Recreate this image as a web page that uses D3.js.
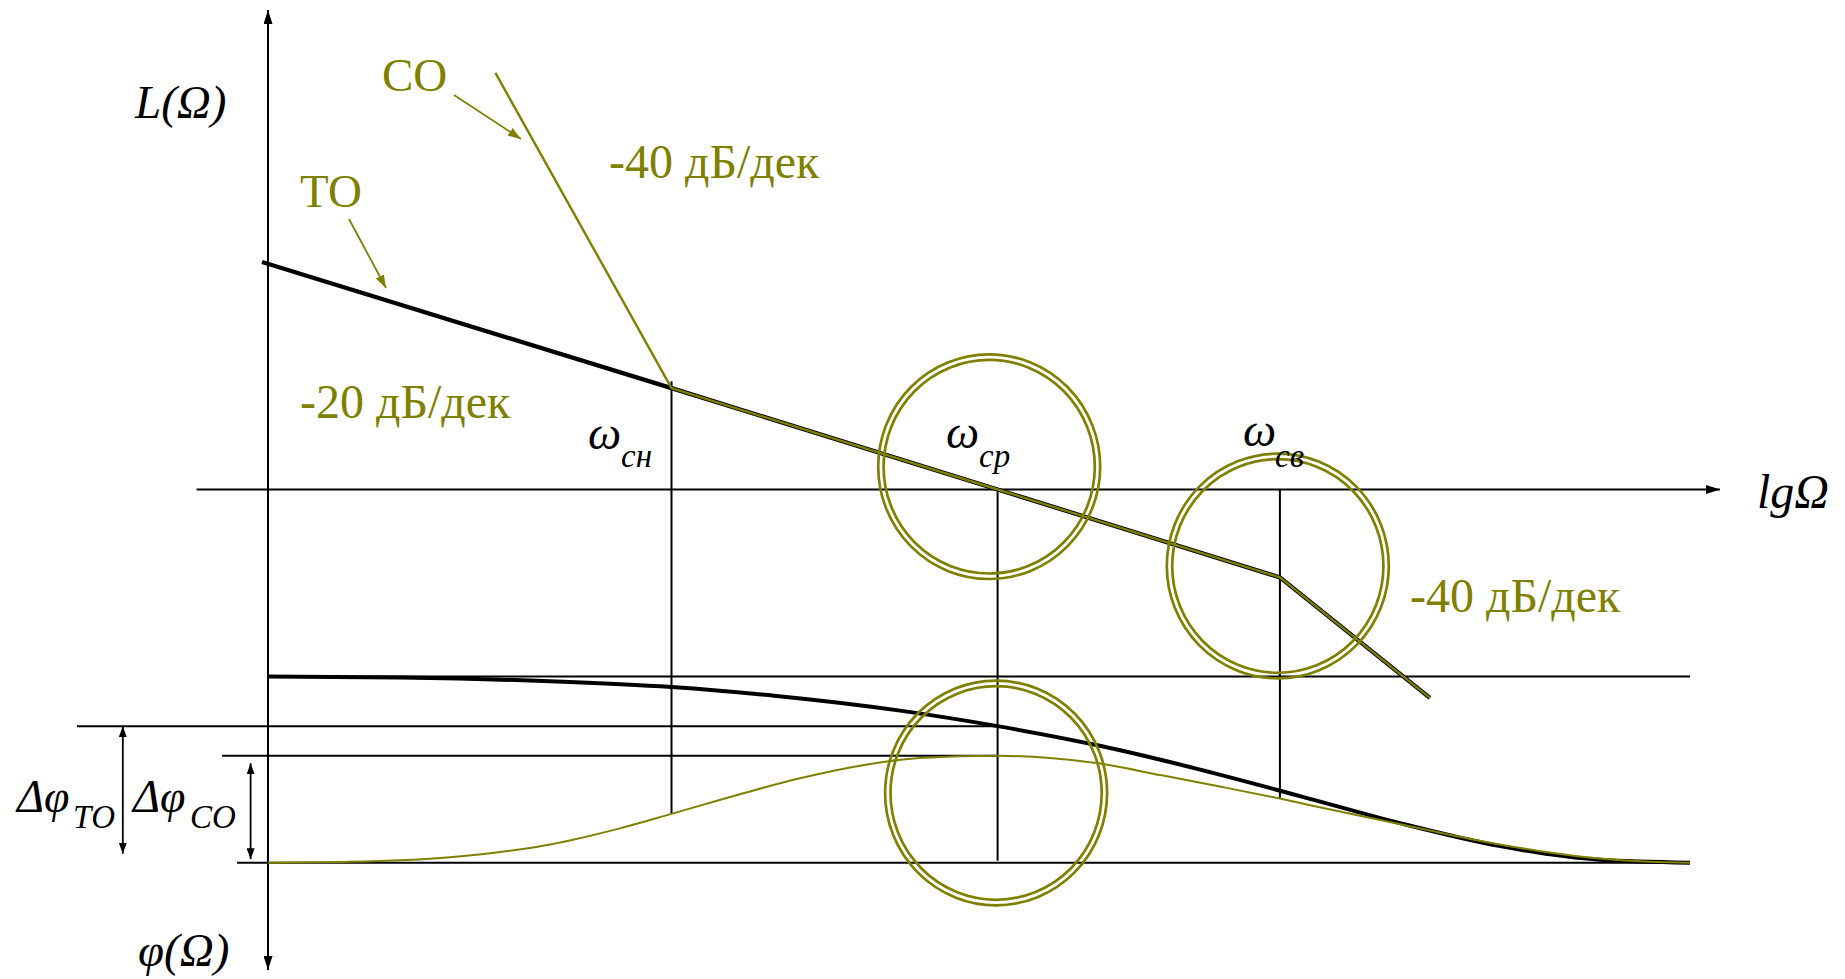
<!DOCTYPE html>
<html>
<head>
<meta charset="utf-8">
<script src="https://cdn.jsdelivr.net/npm/d3@7"></script>
<style>
  html, body { margin: 0; padding: 0; background: #ffffff; }
  svg { display: block; }
  text { font-family: "Liberation Serif", "Times New Roman", serif; }
</style>
</head>
<body>
<svg id="chart" width="1845" height="979"></svg>
<script>
// Асимптотические ЛАЧХ: lg Ω (декады), L (дБ)
const lgTO  = [-0.02, 1.345, 2.432, 3.373, 3.873];
const magTO = [48.9, 21.8, 0, -18.9, -44.8];
const lgCO  = [0.758, 1.345, 2.432, 3.373, 3.873];
const magCO = [89.6, 21.8, 0, -18.9, -44.8];

// Сопрягающие частоты и частота среза
const freqNames = ["сн", "ср", "св"];
const freqLg    = [1.345, 2.432, 3.373];

// ЛФЧХ (градусы)
const phaseLgTO = [0, 0.44, 0.94, 1.345, 1.687, 2.107, 2.432, 2.773, 3.107, 3.44, 3.773, 4.107, 4.44, 4.74];
const phaseTO   = [-90, -90.5, -92.3, -95.1, -99.3, -106.5, -114.0, -123.5, -135.0, -147.8, -160.9, -172.0, -178.6, -180];
const phaseLgCO = [0, 0.273, 0.607, 0.94, 1.173, 1.345, 1.573, 1.773, 1.973, 2.173, 2.432,
                   2.607, 2.773, 2.973, 3.173, 3.373, 3.573, 3.787, 4.007, 4.237, 4.44, 4.607, 4.74];
const phaseCO   = [-180, -179.6, -177.4, -171.2, -163.4, -156.4, -146.9, -139.2, -133.1, -129.4, -128.3,
                   -129.4, -132.1, -137.6, -143.2, -149.0, -155.3, -161.8, -168.5, -174.3, -178.0, -179.6, -180];
const phaseLevels = [-90, -180];

// Подписи
const curveNames  = ["ТО", "СО"];
const slopeLabels = ["-40 дБ/дек", "-20 дБ/дек", "-40 дБ/дек"];

const OLIVE = "#808000";
const svg = d3.select("#chart");

// Шкалы
const x    = d3.scaleLinear().domain([0, 4.84]).range([268, 1720]);
const yL   = d3.scaleLinear().domain([0, 10]).range([489.5, 443]);
const yPhi = d3.scaleLinear().domain([-90, -180]).range([676.5, 862.7]);

// Маркеры-стрелки
const defs = svg.append("defs");
function arrowMarker(id, len, wid, color) {
  defs.append("marker")
    .attr("id", id)
    .attr("viewBox", `0 0 ${len} ${wid}`)
    .attr("refX", len).attr("refY", wid / 2)
    .attr("markerWidth", len).attr("markerHeight", wid)
    .attr("markerUnits", "userSpaceOnUse")
    .attr("orient", "auto-start-reverse")
    .append("path")
    .attr("d", `M0,0 L${len},${wid / 2} L0,${wid} Z`)
    .attr("fill", color);
}
arrowMarker("axisArrow", 14, 9, "#000");
arrowMarker("dimArrow", 11, 8, "#000");
arrowMarker("oliveArrow", 13, 9, OLIVE);

const gAxes = svg.append("g");
const gLines = svg.append("g");
const gCurves = svg.append("g");
const gRings = svg.append("g");
const gText = svg.append("g");

// Оси
gAxes.append("line")
  .attr("x1", x(0)).attr("x2", x(0))
  .attr("y1", 970).attr("y2", 10)
  .attr("stroke", "#000").attr("stroke-width", 2)
  .attr("marker-start", "url(#axisArrow)")
  .attr("marker-end", "url(#axisArrow)");
gAxes.append("line")
  .attr("x1", x(-0.238)).attr("x2", x(4.84))
  .attr("y1", yL(0)).attr("y2", yL(0))
  .attr("stroke", "#000").attr("stroke-width", 2)
  .attr("marker-end", "url(#axisArrow)");

// Уровни фазы
gLines.append("line")
  .attr("x1", x(0)).attr("x2", x(4.74))
  .attr("y1", yPhi(phaseLevels[0])).attr("y2", yPhi(phaseLevels[0]))
  .attr("stroke", "#000").attr("stroke-width", 2);
gLines.append("line")
  .attr("x1", x(-0.103)).attr("x2", x(4.74))
  .attr("y1", yPhi(phaseLevels[1])).attr("y2", yPhi(phaseLevels[1]))
  .attr("stroke", "#000").attr("stroke-width", 2);

// Запасы по фазе на частоте среза
const phiTOcut = phaseTO[phaseLgTO.indexOf(freqLg[1])];
const phiCOcut = phaseCO[phaseLgCO.indexOf(freqLg[1])];
gLines.append("line")
  .attr("x1", x(-0.637)).attr("x2", x(freqLg[1]))
  .attr("y1", yPhi(phiTOcut)).attr("y2", yPhi(phiTOcut))
  .attr("stroke", "#000").attr("stroke-width", 2);
gLines.append("line")
  .attr("x1", x(-0.153)).attr("x2", x(freqLg[1]))
  .attr("y1", yPhi(phiCOcut)).attr("y2", yPhi(phiCOcut))
  .attr("stroke", "#000").attr("stroke-width", 2);

// Размерные стрелки Δφ
gLines.append("line")
  .attr("x1", x(-0.484)).attr("x2", x(-0.484))
  .attr("y1", yPhi(phiTOcut)).attr("y2", yPhi(phaseLevels[1]) - 9)
  .attr("stroke", "#000").attr("stroke-width", 1.8)
  .attr("marker-start", "url(#dimArrow)")
  .attr("marker-end", "url(#dimArrow)");
gLines.append("line")
  .attr("x1", x(-0.058)).attr("x2", x(-0.058))
  .attr("y1", yPhi(phiCOcut) + 7.5).attr("y2", yPhi(phaseLevels[1]) - 3.5)
  .attr("stroke", "#000").attr("stroke-width", 1.8)
  .attr("marker-start", "url(#dimArrow)")
  .attr("marker-end", "url(#dimArrow)");

// Вертикали на характерных частотах
const phaseCOat = lg => phaseCO[phaseLgCO.indexOf(lg)];
const coAtSv = d3.scaleLinear().domain(phaseLgCO).range(phaseCO)(freqLg[2]);
gLines.append("line")
  .attr("x1", x(freqLg[0])).attr("x2", x(freqLg[0]))
  .attr("y1", yL(magTO[1]) - 7).attr("y2", yPhi(phaseCOat(freqLg[0])))
  .attr("stroke", "#000").attr("stroke-width", 2);
gLines.append("line")
  .attr("x1", x(freqLg[1])).attr("x2", x(freqLg[1]))
  .attr("y1", yL(0)).attr("y2", yPhi(phaseLevels[1]) - 2)
  .attr("stroke", "#000").attr("stroke-width", 2);
gLines.append("line")
  .attr("x1", x(freqLg[2])).attr("x2", x(freqLg[2]))
  .attr("y1", yL(0)).attr("y2", yPhi(coAtSv))
  .attr("stroke", "#000").attr("stroke-width", 2);

// ЛАЧХ
const lineL = d3.line().x(d => x(d[0])).y(d => yL(d[1]));
gCurves.append("path")
  .datum(d3.zip(lgTO, magTO))
  .attr("d", lineL)
  .attr("fill", "none").attr("stroke", "#000").attr("stroke-width", 4.2)
  .attr("stroke-linejoin", "round");
gCurves.append("path")
  .datum(d3.zip(lgCO, magCO))
  .attr("d", lineL)
  .attr("fill", "none").attr("stroke", OLIVE).attr("stroke-width", 2.4)
  .attr("stroke-linejoin", "round");

// ЛФЧХ
const linePhi = d3.line().x(d => x(d[0])).y(d => yPhi(d[1])).curve(d3.curveMonotoneX);
gCurves.append("path")
  .datum(d3.zip(phaseLgTO, phaseTO))
  .attr("d", linePhi)
  .attr("fill", "none").attr("stroke", "#000").attr("stroke-width", 4);
gCurves.append("path")
  .datum(d3.zip(phaseLgCO, phaseCO))
  .attr("d", linePhi)
  .attr("fill", "none").attr("stroke", OLIVE).attr("stroke-width", 2);

// Двойные кольца выделения
const ringCenters = [
  { lg: 2.404, y: yL(4.9) },
  { lg: 3.366, y: yL(-16.45) },
  { lg: 2.427, y: yPhi(-146.3) }
];
ringCenters.forEach(c => {
  [[111, 112.3], [105.6, 106.8]].forEach(([rx, ry]) => {
    gRings.append("ellipse")
      .attr("cx", x(c.lg)).attr("cy", c.y)
      .attr("rx", rx).attr("ry", ry)
      .attr("fill", "none").attr("stroke", OLIVE).attr("stroke-width", 2.7);
  });
});

// Указатели кривых
gLines.append("line")
  .attr("x1", 454).attr("y1", 95).attr("x2", 521).attr("y2", 139)
  .attr("stroke", OLIVE).attr("stroke-width", 1.8)
  .attr("marker-end", "url(#oliveArrow)");
gLines.append("line")
  .attr("x1", 349).attr("y1", 219).attr("x2", 386).attr("y2", 288)
  .attr("stroke", OLIVE).attr("stroke-width", 1.8)
  .attr("marker-end", "url(#oliveArrow)");

// Текст
function label(txt, px, py, size, italic, color) {
  return gText.append("text")
    .attr("x", px).attr("y", py)
    .attr("font-size", size)
    .attr("font-style", italic ? "italic" : "normal")
    .attr("fill", color || "#000")
    .text(txt);
}
label("L(Ω)", 135, 118, 47, true);
label("lgΩ", 1757, 508, 48, true);
label("φ(Ω)", 138, 966, 47, true);

// ω с индексами
const omegaPos = [[588, 449, 621], [946, 448, 979], [1243, 446, 1275]];
freqNames.forEach((n, i) => {
  label("ω", omegaPos[i][0], omegaPos[i][1], 47, true);
  label(n, omegaPos[i][2], 466.7, 33, true);
});

// Δφ
label("Δφ", 17, 811.7, 46, true);
label(curveNames[0], 73, 828, 33, true);
label("Δφ", 133, 811.7, 46, true);
label(curveNames[1], 190, 828, 33, true);

// Оливковые подписи
label(curveNames[1], 382, 91, 47, false, OLIVE);
label(curveNames[0], 300, 207, 47, false, OLIVE);
label(slopeLabels[0], 609, 178, 48, false, OLIVE);
label(slopeLabels[1], 300, 418, 48, false, OLIVE);
label(slopeLabels[2], 1410, 612, 48, false, OLIVE);
</script>
</body>
</html>
